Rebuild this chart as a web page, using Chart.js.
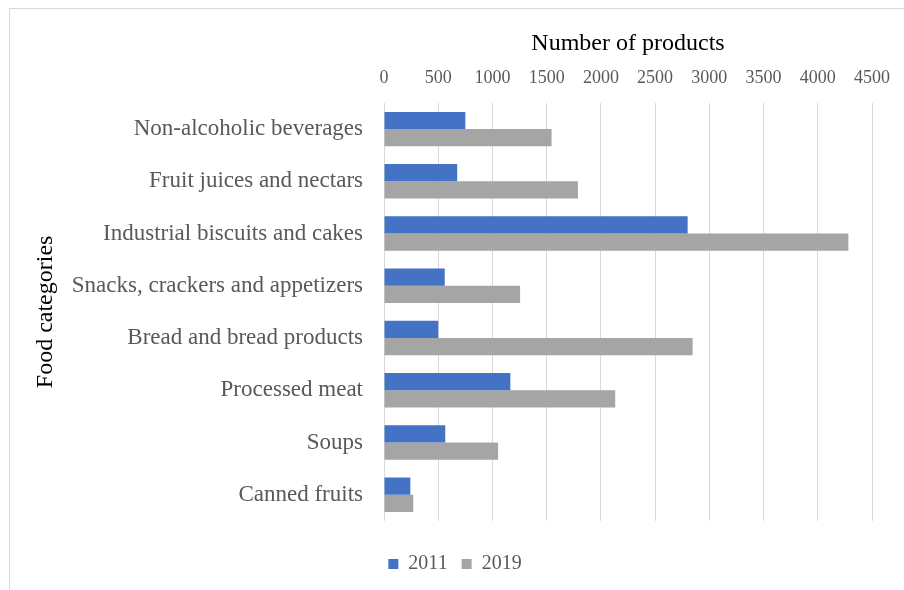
<!DOCTYPE html>
<html>
<head>
<meta charset="utf-8">
<script src="https://cdn.jsdelivr.net/npm/chart.js@4.4.1/dist/chart.umd.min.js"></script>
<style>
  html, body { margin: 0; padding: 0; background: #fff; }
  #wrap { position: relative; width: 904px; height: 590px; }
  #frame { position: absolute; left: 9px; top: 8px; right: -2px; bottom: -2px;
           border-left: 1px solid #d9d9d9; border-top: 1px solid #d9d9d9; }
  canvas { position: absolute; left: 0; top: 0; }
</style>
</head>
<body>
<div id="wrap">
  <div id="frame"></div>
  <canvas id="barchart" width="904" height="590"></canvas>
</div>
<script>
var categories = [
  "Non-alcoholic beverages",
  "Fruit juices and nectars",
  "Industrial biscuits and cakes",
  "Snacks, crackers and appetizers",
  "Bread and bread products",
  "Processed meat",
  "Soups",
  "Canned fruits"
];
var values2011 = [750, 675, 2800, 560, 500, 1165, 565, 243];
var values2019 = [1545, 1788, 4282, 1255, 2846, 2132, 1052, 270];
var xTicks = [0, 500, 1000, 1500, 2000, 2500, 3000, 3500, 4000, 4500];

var serif = "'Liberation Serif', 'Times New Roman', serif";

let ctx = document.getElementById("barchart").getContext("2d");

let chart = new Chart(ctx, {
  type: "bar",
  data: {
    labels: categories,
    datasets: [
      {
        label: "2011",
        backgroundColor: "#4472C4",
        data: values2011,
      },
      {
        label: "2019",
        backgroundColor: "#A5A5A5",
        data: values2019,
      },
    ],
  },
  options: {
    indexAxis: "y",
    responsive: false,
    animation: false,
    datasets: {
      bar: { categoryPercentage: 0.66, barPercentage: 1.0 }
    },
    layout: {
      padding: { left: 26, right: 20, top: 16, bottom: 6 }
    },
    scales: {
      x: {
        position: "top",
        min: 0,
        max: 4500,
        afterBuildTicks: (scale) => {
          scale.ticks = xTicks.map((v) => ({ value: v }));
        },
        afterFit: (scale) => { scale.height = 87; },
        grid: { color: "#d9d9d9", drawTicks: false },
        border: { display: false },
        ticks: {
          color: "#595959",
          padding: 14,
          font: { family: serif, size: 18 },
          callback: (v) => String(v),
        },
        title: {
          display: true,
          text: "Number of products",
          color: "#000",
          padding: { top: 13, bottom: 0 },
          font: { family: serif, size: 24 },
        },
      },
      y: {
        afterFit: (scale) => { scale.width = 358; },
        grid: { display: false },
        border: { display: false },
        ticks: {
          color: "#595959",
          padding: 13,
          font: { family: serif, size: 23 },
        },
        title: {
          display: true,
          text: "Food categories",
          color: "#000",
          padding: { top: 5, bottom: 0 },
          font: { family: serif, size: 24 },
        },
      },
    },
    plugins: {
      legend: {
        position: "bottom",
        // empty title only used as a spacer above the legend row
        title: {
          display: true,
          text: " ",
          font: { size: 1 },
          padding: { top: 0, bottom: 18 },
        },
        labels: {
          color: "#595959",
          boxWidth: 10,
          boxHeight: 10,
          padding: 14,
          font: { family: serif, size: 20 },
        },
      },
      tooltip: { enabled: false },
    },
  },
});
</script>
</body>
</html>
